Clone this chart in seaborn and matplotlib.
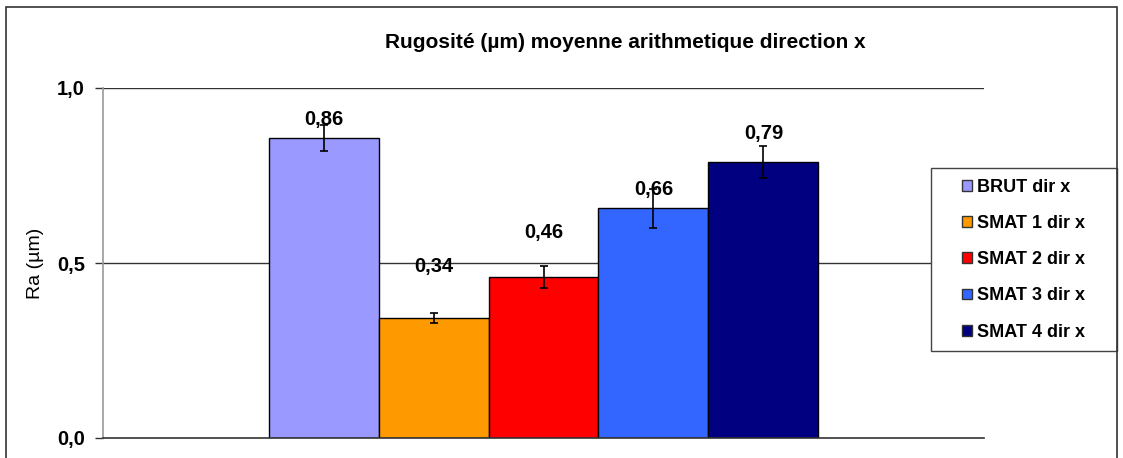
import matplotlib
matplotlib.use("Agg")
import matplotlib.pyplot as plt
import seaborn as sns
import pandas as pd
from matplotlib.patches import Rectangle

series = ["BRUT dir x", "SMAT 1 dir x", "SMAT 2 dir x", "SMAT 3 dir x", "SMAT 4 dir x"]
values = [0.858, 0.343, 0.461, 0.656, 0.789]
errors = [0.037, 0.013, 0.031, 0.055, 0.045]
value_labels = ["0,86", "0,34", "0,46", "0,66", "0,79"]
label_heights = [0.909, 0.491, 0.586, 0.711, 0.871]
yticks = [0.0, 0.5, 1.0]
ytick_labels = ["0,0", "0,5", "1,0"]
colors = ["#9999FF", "#FF9900", "#FF0000", "#3366FF", "#000080"]

sns.set_theme(style="white")
plt.rcParams["font.family"] = ["Liberation Sans", "DejaVu Sans"]
plt.rcParams["text.color"] = "black"
plt.rcParams["axes.labelcolor"] = "black"
plt.rcParams["ytick.color"] = "black"
plt.rcParams["ytick.labelcolor"] = "black"

df = pd.DataFrame({"cat": [""] * len(series), "serie": series, "val": values})

fig = plt.figure(figsize=(11.23, 4.58), dpi=100)
ax = fig.add_axes([103 / 1123, 20 / 458, 881 / 1123, 350 / 458])

sns.barplot(data=df, x="cat", y="val", hue="serie", hue_order=series,
            palette=colors, width=0.624, edgecolor="black", linewidth=1.0,
            saturation=1, errorbar=None, ax=ax, legend=True)

ax.set_xlim(-0.5, 0.5)
ax.set_ylim(0, 1.0)

patches = [p for p in ax.patches if p.get_height() > 0][:len(series)]
patches = sorted(patches, key=lambda p: p.get_x())
for p, v, e, lab, ly in zip(patches, values, errors, value_labels, label_heights):
    cx = p.get_x() + p.get_width() / 2
    ax.errorbar(cx, v, yerr=e, color="black", capsize=3, elinewidth=1.2,
                capthick=1.2, fmt="none", zorder=5)
    ax.text(cx, ly, lab, ha="center", va="center", fontsize=14.5,
            fontweight="bold", color="black", zorder=6)

for y in yticks[1:]:
    ax.axhline(y, color="#333333", lw=1.0, zorder=0)

ax.set_yticks(yticks)
ax.set_yticklabels(ytick_labels, fontsize=14.5, fontweight="bold", color="black")
ax.set_xticks([])
ax.set_xlabel("")
ax.set_ylabel("Ra (µm)", fontsize=14, labelpad=9, color="black")
ax.tick_params(axis="y", length=6, width=1, color="#333333", pad=7, left=True)

for s in ["top", "right"]:
    ax.spines[s].set_visible(False)
ax.spines["left"].set_color("#999999")
ax.spines["left"].set_linewidth(1.2)
ax.spines["bottom"].set_color("#333333")
ax.spines["bottom"].set_linewidth(1.2)

fig.text(625 / 1123, 1 - 42 / 458, "Rugosité (µm) moyenne arithmetique direction x",
         fontsize=15, fontweight="bold", ha="center", va="center", color="black")

handles, labels = ax.get_legend_handles_labels()
ax.get_legend().remove()
leg = fig.legend(handles, labels, loc="upper left",
                 bbox_to_anchor=(962 / 1123, 1 - 179 / 458),
                 bbox_transform=fig.transFigure, borderaxespad=0, borderpad=0,
                 prop={"weight": "bold", "size": 13}, frameon=False,
                 handlelength=0.55, handleheight=0.55, handletextpad=0.3,
                 labelspacing=1.06, labelcolor="black")
leg.set_zorder(10)
for h in leg.legend_handles:
    h.set_edgecolor("#333333")
    h.set_linewidth(1.0)

fig.patches.append(Rectangle((931 / 1123, 1 - 351 / 458), (1117 - 931) / 1123,
                             (351 - 168) / 458, transform=fig.transFigure,
                             facecolor="white", edgecolor="#444444", lw=1.0,
                             zorder=5))

fig.patches.append(Rectangle((6 / 1123, -0.1), (1117 - 6) / 1123, 1.1 - 7 / 458,
                             transform=fig.transFigure, fill=False,
                             edgecolor="#333333", lw=1.2, clip_on=False,
                             zorder=6))

fig.savefig("out.png", dpi=100)
